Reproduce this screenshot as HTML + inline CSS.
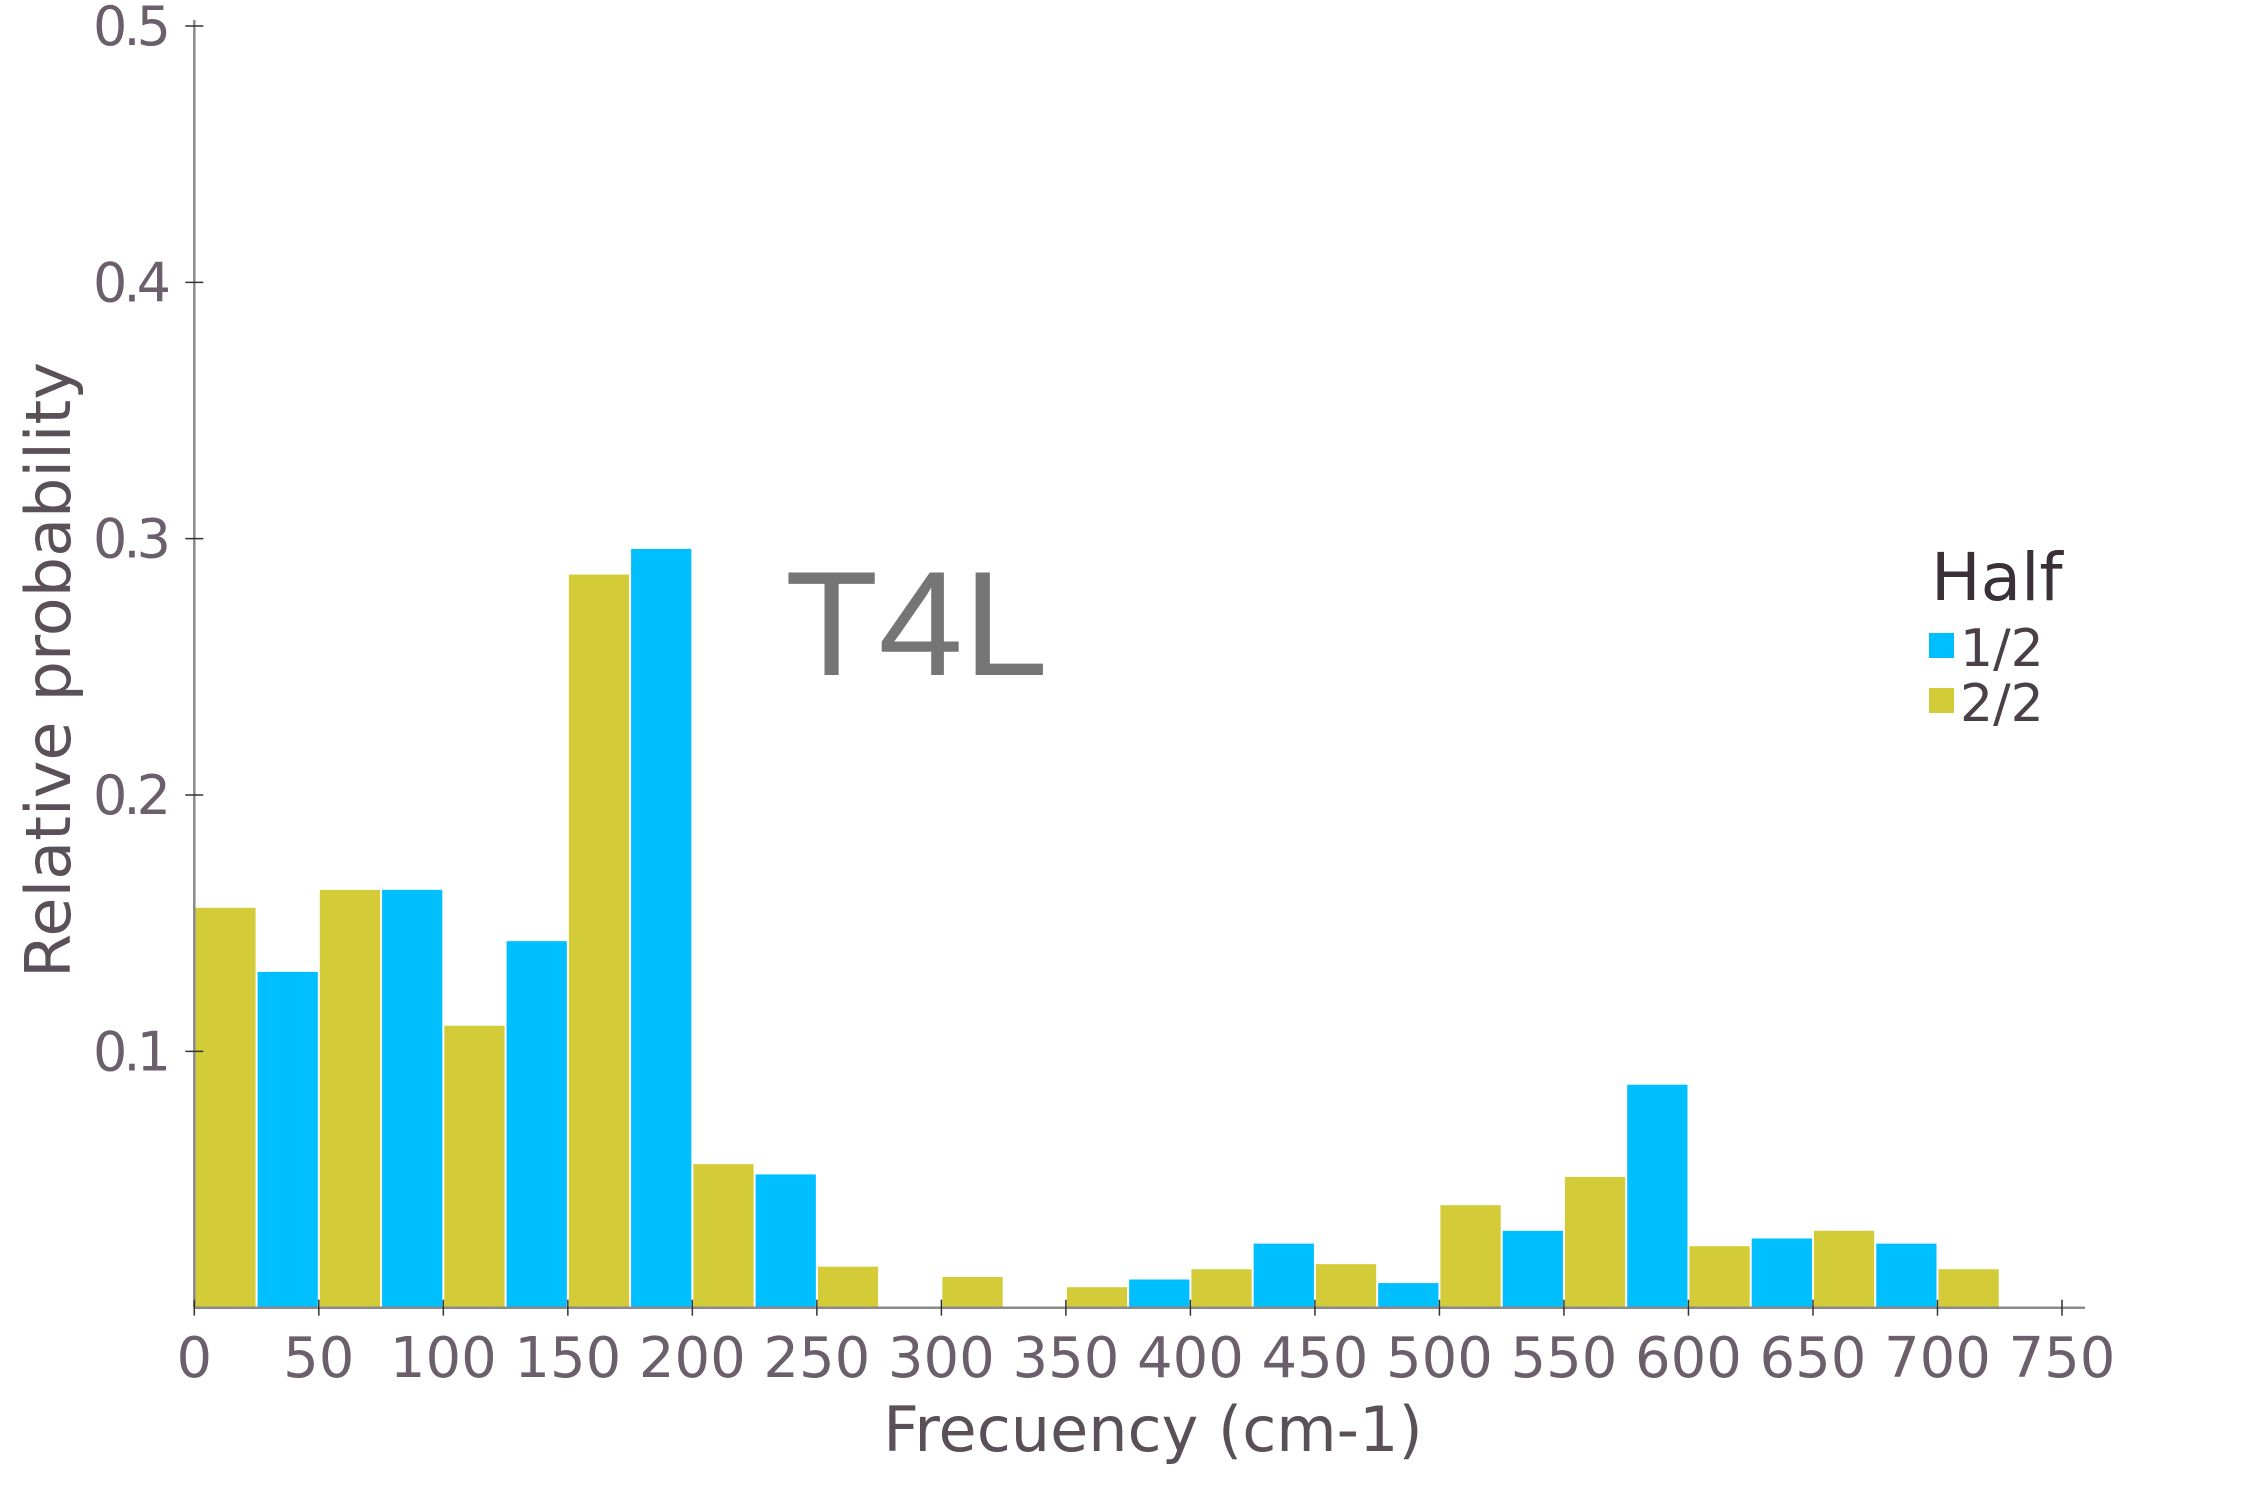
<!DOCTYPE html>
<html><head><meta charset="utf-8">
<style>
html,body{margin:0;padding:0;background:#fff;}
svg{display:block;}
text{font-family:"DejaVu Sans","Liberation Sans",sans-serif;}
</style></head>
<body>
<svg id="chart" width="2268" height="1512" viewBox="0 0 2268 1512" xmlns="http://www.w3.org/2000/svg">
  <g id="bars"></g>
  <g id="axes"></g>
  <text x="785" y="675" font-size="149" fill="#757575" style="font-family:'Liberation Sans',sans-serif" textLength="263" lengthAdjust="spacingAndGlyphs">T4L</text>
  <text x="1153" y="1451" font-size="62" fill="#5a5058" text-anchor="middle">Frecuency (cm-1)</text>
  <text transform="translate(70,670) rotate(-90)" font-size="62" fill="#5a5058" text-anchor="middle" textLength="616" lengthAdjust="spacingAndGlyphs">Relative probability</text>
  <g>
    <text x="1931" y="600" font-size="66" fill="#3a3038">Half</text>
    <rect x="1929" y="633" width="25" height="25" fill="#00BFFF"/>
    <text x="1960" y="666" font-size="52" fill="#4a4048">1/2</text>
    <rect x="1929" y="688" width="25" height="25" fill="#D4CB38"/>
    <text x="1960" y="721" font-size="52" fill="#4a4048">2/2</text>
  </g>
</svg>
<script>
const binStarts = [0,25,50,75,100,125,150,175,200,225,250,300,350,375,400,425,450,475,500,525,550,575,600,625,650,675,700];
const binValues = [0.156,0.131,0.163,0.163,0.110,0.143,0.286,0.296,0.056,0.052,0.016,0.012,0.008,0.011,0.015,0.025,0.017,0.0096,0.040,0.030,0.051,0.087,0.024,0.027,0.030,0.025,0.015];
const binHalf = ["2/2","1/2","2/2","1/2","2/2","1/2","2/2","1/2","2/2","1/2","2/2","2/2","2/2","1/2","2/2","1/2","2/2","1/2","2/2","1/2","2/2","1/2","2/2","1/2","2/2","1/2","2/2"];
const binWidth = 25;
const xTicks = [0,50,100,150,200,250,300,350,400,450,500,550,600,650,700,750];
const yTicks = [0.1,0.2,0.3,0.4,0.5];
const yTickLabels = ["0.1","0.2","0.3","0.4","0.5"];

const NS = "http://www.w3.org/2000/svg";
const X0 = 194.3, XPX = (2062 - 194.3) / 750;
const Y0 = 1307.7, YPX = (1307.7 - 26) / 0.5;
function xs(v){ return X0 + v * XPX; }
function ys(v){ return Y0 - v * YPX; }
const colors = {"1/2":"#00BFFF","2/2":"#D4CB38"};

const barsG = document.getElementById('bars');
binStarts.forEach((s,i)=>{
  const r = document.createElementNS(NS,'rect');
  const x1 = xs(s), x2 = xs(s+binWidth), yt = ys(binValues[i]);
  r.setAttribute('x', x1+1);
  r.setAttribute('width', x2-x1-2);
  r.setAttribute('y', yt);
  r.setAttribute('height', Y0-yt);
  r.setAttribute('fill', colors[binHalf[i]]);
  
  
  barsG.appendChild(r);
});

const axesG = document.getElementById('axes');
function line(x1,y1,x2,y2,stroke,w,name){
  const l = document.createElementNS(NS,'line');
  l.setAttribute('x1',x1);l.setAttribute('y1',y1);l.setAttribute('x2',x2);l.setAttribute('y2',y2);
  l.setAttribute('stroke',stroke);l.setAttribute('stroke-width',w);
  
  
  axesG.appendChild(l);
}
line(X0, 20, X0, Y0, '#8a8a8a', 2.5, 'y-axis-line');
line(X0, Y0, 2085, Y0, '#8a8a8a', 2.5, 'x-axis-line');
xTicks.forEach(t=>{
  line(xs(t), Y0-8, xs(t), Y0+8, '#333', 1.5, 'x-tick');
  const tx = document.createElementNS(NS,'text');
  tx.setAttribute('x', xs(t)); tx.setAttribute('y', 1377);
  tx.setAttribute('font-size', 56); tx.setAttribute('fill', '#6a5f6b');
  tx.setAttribute('text-anchor','middle');
  tx.textContent = t;
  
  
  axesG.appendChild(tx);
});
yTicks.forEach((t,i)=>{
  line(X0-9, ys(t), X0+9, ys(t), '#333', 1.5, 'y-tick');
  const tx = document.createElementNS(NS,'text');
  tx.setAttribute('x', 171); tx.setAttribute('y', ys(t)+19);
  tx.setAttribute('font-size', 54); tx.setAttribute('fill', '#6a5f6b');
  tx.setAttribute('text-anchor','end');
  tx.setAttribute('textLength', 78);
  tx.textContent = yTickLabels[i];
  
  
  axesG.appendChild(tx);
});
</script>
</body></html>
